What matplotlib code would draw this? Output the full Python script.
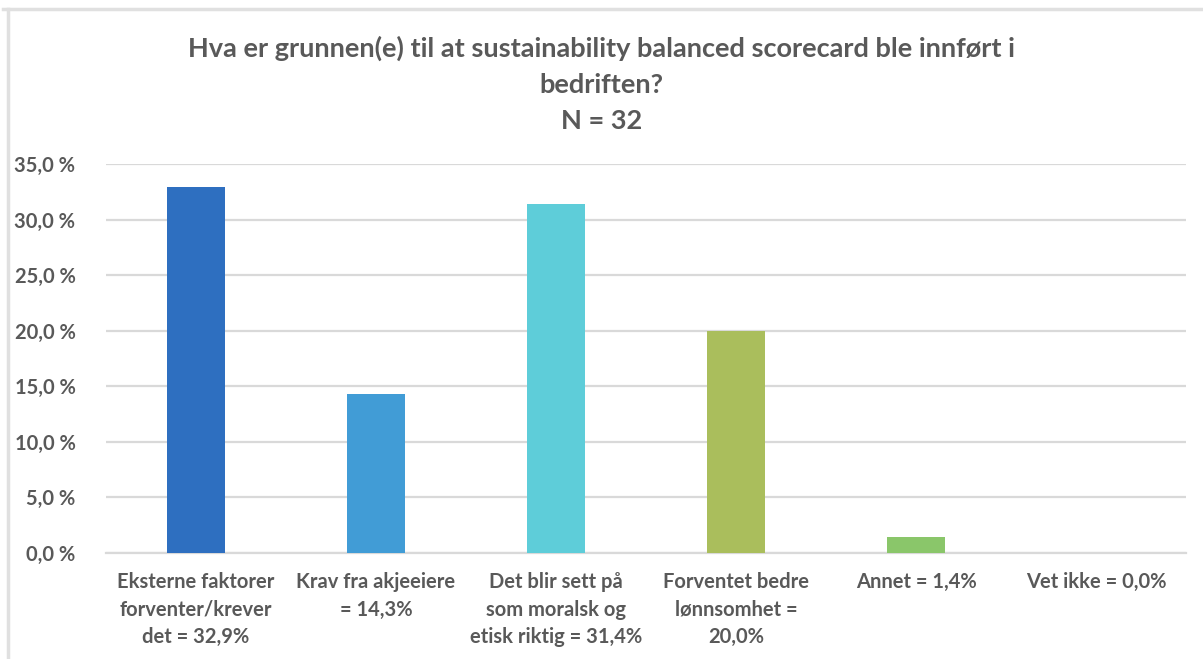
import matplotlib.pyplot as plt
from matplotlib.lines import Line2D
from matplotlib.ticker import FuncFormatter, MultipleLocator

categories = [
    "Eksterne faktorer\nforventer/krever\ndet = 32,9%",
    "Krav fra akjeeiere\n= 14,3%",
    "Det blir sett på\nsom moralsk og\netisk riktig = 31,4%",
    "Forventet bedre\nlønnsomhet =\n20,0%",
    "Annet = 1,4%",
    "Vet ikke = 0,0%",
]
values = [32.9, 14.3, 31.4, 20.0, 1.4, 0.0]
colors = ["#2E6FC0", "#419CD6", "#5ECDD9", "#AABE5C", "#8AC66A", "#8AC66A"]

title = "Hva er grunnen(e) til at sustainability balanced scorecard ble innført i\nbedriften?\nN = 32"

text_color = "#595959"
plt.rcParams['font.family'] = ['Lato', 'DejaVu Sans']

fig = plt.figure(figsize=(12.03, 6.59), dpi=100)
ax = fig.add_axes([106 / 1203, 1 - 553 / 659, 1080 / 1203, 389 / 659])

x = range(len(values))
ax.bar(x, values, width=0.32, color=colors, zorder=3)

ax.set_xlim(-0.5, len(values) - 0.5)
ax.set_ylim(0, 35)
ax.yaxis.set_major_locator(MultipleLocator(5))
ax.yaxis.set_major_formatter(FuncFormatter(lambda v, _: f"{v:.1f} %".replace(".", ",")))
ax.grid(axis='y', color='#D9D9D9', linewidth=1.6, zorder=0)

ax.set_xticks(list(x))
ax.set_xticklabels(categories, fontsize=14.5, fontweight='bold', color=text_color,
                   linespacing=1.45, va='top')
for lbl in ax.get_yticklabels():
    lbl.set_fontsize(14.5)
    lbl.set_fontweight('bold')
    lbl.set_color(text_color)

ax.tick_params(axis='both', length=0)
ax.tick_params(axis='x', pad=14)
ax.tick_params(axis='y', pad=22)
for side in ['top', 'right', 'left']:
    ax.spines[side].set_visible(False)
ax.spines['bottom'].set_color('#D9D9D9')
ax.spines['bottom'].set_linewidth(1.6)

fig.text(0.5, 1 - 84 / 659, title, ha='center', va='center', fontsize=19.5,
         fontweight='bold', color=text_color, linespacing=1.6)

# light frame edges on the top and left side
fig.add_artist(Line2D([3 / 1203, 1], [1 - 9 / 659, 1 - 9 / 659], color='#E0E0E0', linewidth=2.5))
fig.add_artist(Line2D([8 / 1203, 8 / 1203], [0, 1 - 9 / 659], color='#E0E0E0', linewidth=2.5))

fig.savefig("out.png", dpi=100)
